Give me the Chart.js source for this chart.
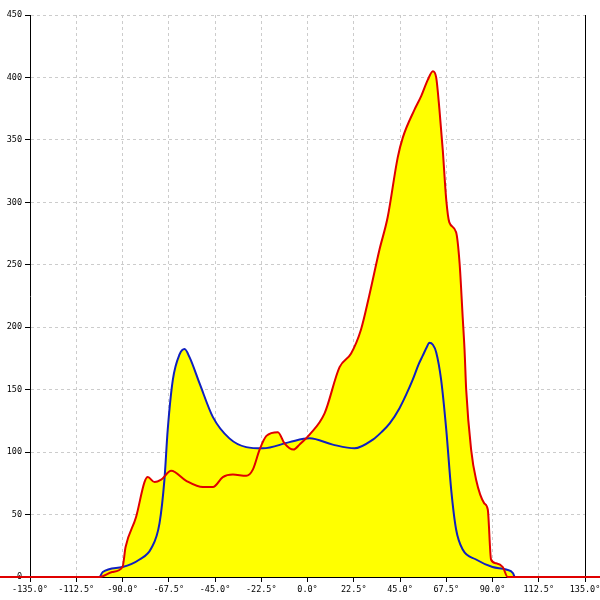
<!DOCTYPE html>
<html>
<head>
<meta charset="utf-8">
<script src="https://cdn.jsdelivr.net/npm/chart.js@4/dist/chart.umd.min.js"></script>
<style>
  html, body { margin: 0; padding: 0; background: #fff; }
  #wrap { width: 600px; height: 600px; }
</style>
</head>
<body>
<div id="wrap"><canvas id="dist"></canvas></div>
<script>
// red curve (filled) - angle in degrees / count
var redAngles = [-150, -101, -95, -90, -88.5, -83.4, -79.3, -77.7, -74.4, -71.2, -66.3, -59, -50.9, -46, -41.2, -36.3, -29.8, -26.6, -23.3, -20, -14.4, -11.2, -6.8, -3.9, 1, 8.3, 15.6, 21.2, 26, 30, 35, 39, 43.9, 46.4, 52, 55.3, 58.5, 61, 62.6, 64.2, 65.8, 67.5, 69, 72.3, 74, 75.5, 76.4, 77.2, 79.6, 82, 86, 87.7, 89.3, 91.8, 95, 97.4, 150];
var redValues = [0, 0, 4, 8, 24, 48, 76, 80, 76, 78, 85, 77, 72, 72, 80, 82, 81, 86, 102, 113, 116, 107, 102, 106, 114, 131, 168, 179, 198, 225, 262, 288, 336, 352, 374, 385, 398, 405, 400, 374, 342, 302, 284, 276, 251, 208, 182, 150, 102, 78, 59, 54, 14, 11, 8, 0, 0];

// blue curve
var blueAngles = [-101, -99.6, -90, -81.7, -76, -72, -69.6, -68, -65.5, -62.3, -59.8, -57.4, -52.5, -46, -38, -29.8, -21.7, -8.8, 1, 12.3, 22.9, 31.8, 36, 40, 44.7, 48, 51.2, 54, 56, 58, 59.3, 61, 62.6, 65, 67.5, 69.9, 72.3, 75.5, 82, 90, 96.6, 100, 100.7];
var blueValues = [0, 4, 8, 14, 23, 43, 78, 118, 158, 178, 182.5, 176, 155, 128, 111, 104, 103, 108, 111, 106, 103, 110, 116, 123, 135, 146, 158, 170, 177, 184, 187.6, 186, 180, 158, 118, 70, 38, 22, 14, 8, 6, 3, 0];

// axis ticks
var xTickStep = 22.5;
var yTickStep = 50;

function toPoints(xs, ys) {
  return xs.map(function (x, i) { return { x: x, y: ys[i] }; });
}

const font = { family: 'DejaVu Sans Mono', size: 8.5 };

const ctx = document.getElementById('dist').getContext('2d');
const chart = new Chart(ctx, {
  type: 'line',
  data: {
    datasets: [{
      data: toPoints(redAngles, redValues),
      borderColor: '#e00000',
      borderWidth: 2,
      backgroundColor: '#ffff00',
      fill: 'origin',
      pointRadius: 0,
      cubicInterpolationMode: 'monotone',
      clip: false
    }, {
      data: toPoints(blueAngles, blueValues),
      borderColor: '#1020c0',
      borderWidth: 2,
      backgroundColor: '#ffff00',
      fill: 'origin',
      pointRadius: 0,
      cubicInterpolationMode: 'monotone'
    }]
  },
  options: {
    responsive: true,
    maintainAspectRatio: false,
    animation: false,
    layout: { padding: { top: 15, right: 15, left: 0, bottom: 0 } },
    plugins: {
      legend: { display: false },
      tooltip: { enabled: false },
      filler: { drawTime: 'beforeDatasetsDraw' } // fills under both lines
    },
    scales: {
      x: {
        type: 'linear',
        min: -135,
        max: 135,
        afterFit: function (s) { s.height = 23; s.paddingLeft = 0; s.paddingRight = 0; },
        ticks: {
          stepSize: xTickStep,
          font: font,
          color: '#000',
          padding: 3,
          maxRotation: 0,
          autoSkip: false,
          callback: function (v) { return v.toFixed(1) + '°'; }
        },
        grid: { color: '#cccccc', tickColor: '#000', tickLength: 5 },
        border: { color: '#000', width: 1, dash: [3, 3] }
      },
      y: {
        min: 0,
        max: 450,
        afterFit: function (s) { s.width = 30; },
        ticks: { stepSize: yTickStep, font: font, color: '#000', padding: 3 },
        grid: { color: '#cccccc', tickColor: '#000', tickLength: 5 },
        border: { color: '#000', width: 1, dash: [3, 3] }
      },
      y2: {
        position: 'right',
        min: 0,
        max: 450,
        afterFit: function (s) { s.width = 0; },
        ticks: { display: false },
        grid: { display: false },
        border: { color: '#000', width: 1 }
      }
    }
  }
});
</script>
</body>
</html>
